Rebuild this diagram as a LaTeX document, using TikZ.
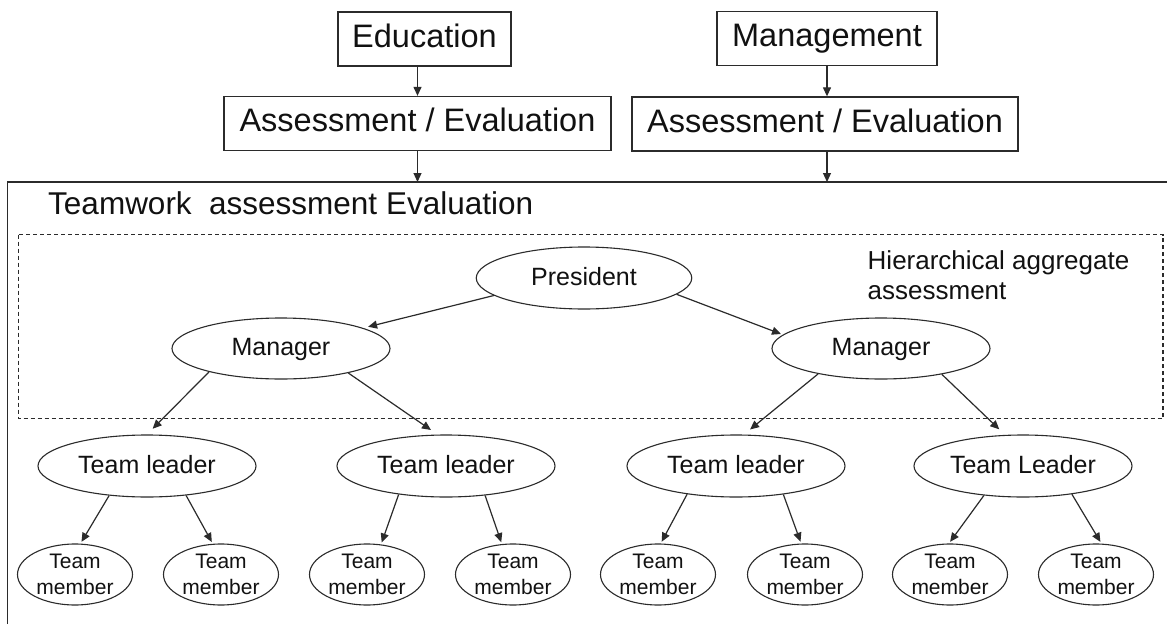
\documentclass[tikz,border=0pt]{standalone}
\usepackage{fontspec}
\setmainfont{Liberation Sans}
\usetikzlibrary{arrows.meta,shapes.geometric}
\definecolor{ln}{HTML}{2B2B2B}
\definecolor{tx}{HTML}{111111}
\tikzset{
  box/.style={draw=ln, line width=1.3pt, minimum height=54pt, inner sep=0pt,
    text=tx, font=\fontsize{32.5}{39}\selectfont, text height=24pt, text depth=8pt},
  ell/.style={ellipse, draw=ln, line width=1.1pt, inner sep=0pt,
    minimum width=218pt, minimum height=62pt, text=tx,
    font=\fontsize{25}{30}\selectfont, text height=19pt, text depth=4.5pt},
  mem/.style={ellipse, draw=ln, line width=1.1pt, inner sep=0pt,
    minimum width=115pt, minimum height=61pt},
  memtext/.style={inner sep=0pt, align=center, text=tx,
    font=\fontsize{21}{26}\selectfont},
  plain/.style={inner sep=0pt, text=tx},
  arr/.style={draw=ln, line width=1.2pt, -{Triangle[length=9pt,width=8pt]}},
  dashbox/.style={draw=ln, line width=1.1pt, dash pattern=on 4pt off 3pt},
}
\begin{document}
\begin{tikzpicture}[x=1pt,y=-1pt]
\useasboundingbox[fill=white] (0,0) rectangle (1167,624);

% top boxes
\node[box, minimum width=173pt] (edu) at (424.5,39) {Education};
\node[box, minimum width=220pt] (mgmt) at (827,38.5) {Management};
\node[box, minimum width=387pt] (assL) at (417.5,123.5) {Assessment / Evaluation};
\node[box, minimum width=386pt] (assR) at (825,124) {Assessment / Evaluation};

% outer frame
\coordinate (otop) at (0,182);
\draw[draw=ln, line width=1.4pt] (7.5,624) -- (7.5,182) -- (1167,182);

\draw[arr] (edu.south -| assL.north) -- (assL.north);
\draw[arr] (mgmt.south) -- (mgmt.south |- assR.north);
\draw[arr] (assL.south) -- (assL.south |- otop);
\draw[arr] (assR.south -| mgmt.south) -- (mgmt.south |- otop);

% title
\node[plain, anchor=base west, font=\fontsize{31.5}{38}\selectfont] (title) at (48,214)
  {Teamwork\ \ assessment Evaluation};

% dashed box
\draw[dashbox] (18.5,234.5) rectangle (1163,418.5);
\node[plain, anchor=base west, font=\fontsize{26}{30}\selectfont] (hier1) at (867.5,269) {Hierarchical aggregate};
\node[plain, anchor=base west, font=\fontsize{26}{30}\selectfont] (hier2) at (867.5,299) {assessment};

% ellipses
\node[ell, minimum width=215.5pt] (pres) at (584,278) {President};
\node[ell, minimum height=61pt] (mgrL) at (281,348.5) {Manager};
\node[ell, minimum height=61pt] (mgrR) at (881,348.5) {Manager};
\node[ell] (tl1) at (147,466) {Team leader};
\node[ell] (tl2) at (446,466) {Team leader};
\node[ell] (tl3) at (736,466) {Team leader};
\node[ell] (tl4) at (1023,466) {Team Leader};

\foreach \i/\x in {1/75,2/221,3/367,4/513,5/658,6/805,7/950,8/1096}{
  \node[mem] (m\i) at (\x,574.5) {};
  \node[memtext] (m\i t) at (m\i.center) {Team\\member};
}

% connectors
\draw[arr, shorten >=5pt] (pres.191) -- (mgrL.14);
\draw[arr, shorten >=2pt] (pres.350) -- (mgrR.172);
\draw[arr, shorten >=8pt] (mgrL.198) -- (tl1.north);
\draw[arr, shorten >=8pt] (mgrL.340) -- (tl2.105);
\draw[arr, shorten >=8pt] (mgrR.202) -- (tl3.76);
\draw[arr, shorten >=8pt] (mgrR.337) -- (tl4.120);
\draw[arr, shorten >=2pt] (tl1.218) -- (m1.80);
\draw[arr, shorten >=2pt] (tl1.323) -- (m2.105);
\draw[arr, shorten >=2pt] (tl2.211) -- (m3.65);
\draw[arr, shorten >=2pt] (tl2.323) -- (m4.110);
\draw[arr, shorten >=2pt] (tl3.210) -- (m5.85);
\draw[arr, shorten >=2pt] (tl3.329) -- (m6.97);
\draw[arr, shorten >=2pt] (tl4.217) -- (m7.92);
\draw[arr, shorten >=2pt] (tl4.330) -- (m8.80);
\end{tikzpicture}
\end{document}
